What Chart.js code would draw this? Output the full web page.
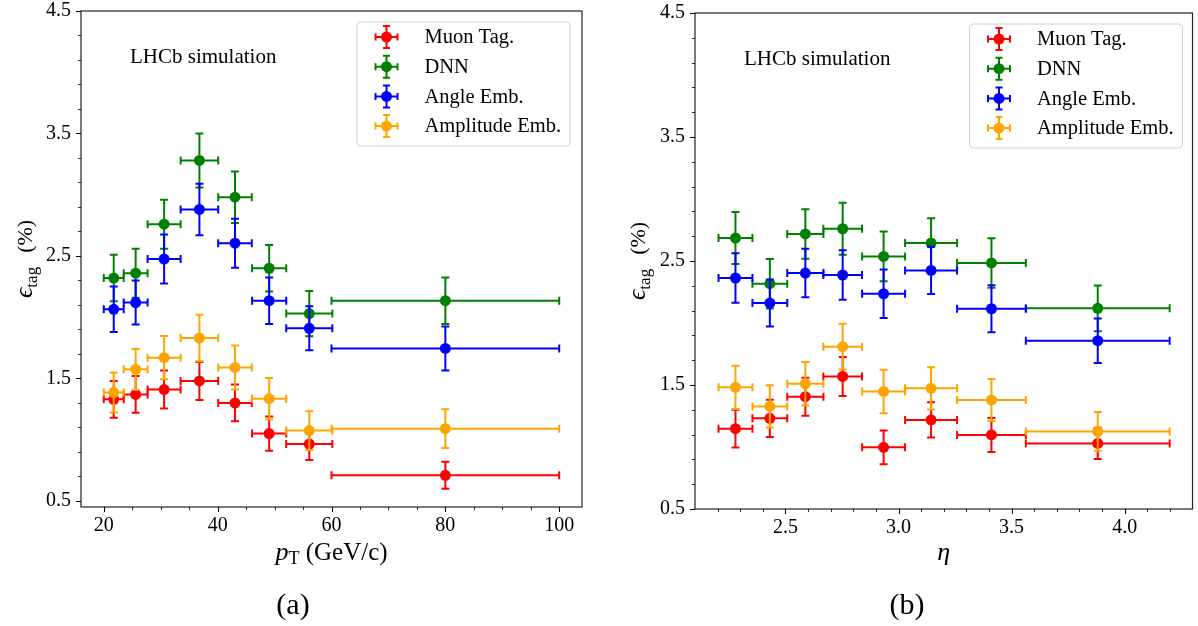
<!DOCTYPE html>
<html>
<head>
<meta charset="utf-8">
<script src="https://cdn.jsdelivr.net/npm/chart.js@4.4.0/dist/chart.umd.min.js"></script>
<style>
  html, body { margin: 0; padding: 0; background: #fff; }
  #wrap { position: relative; width: 1198px; height: 626px; overflow: hidden; }
  .panel { position: absolute; top: 0; height: 626px; }
  .cap {
    position: absolute; top: 589px; width: 200px; text-align: center;
    font: 30px 'Liberation Serif', serif; line-height: 30px; color: #000;
  }
</style>
</head>
<body>
<div id="wrap">
  <div class="panel" style="left:0;width:600px"><canvas id="ptChart"></canvas></div>
  <div class="panel" style="left:600px;width:598px"><canvas id="etaChart"></canvas></div>
  <div class="cap" style="left:193px">(a)</div>
  <div class="cap" style="left:807px">(b)</div>
</div>
<script>
// ---- data: panel (a), binned in pT ----
const ptCenters = [21.75, 25.6, 30.6, 36.8, 43.05, 49.05, 56.1, 80];
const ptHalfWidths = [1.75, 2.1, 2.9, 3.3, 2.95, 3.0, 4.05, 20];
const muonPt = [1.33, 1.37, 1.41, 1.48, 1.30, 1.05, 0.965, 0.71];
const muonPtErr = [0.15, 0.15, 0.155, 0.155, 0.15, 0.14, 0.13, 0.11];
const dnnPt = [2.32, 2.36, 2.76, 3.28, 2.98, 2.40, 2.03, 2.135];
const dnnPtErr = [0.19, 0.2, 0.2, 0.22, 0.21, 0.19, 0.185, 0.19];
const anglePt = [2.065, 2.12, 2.475, 2.88, 2.605, 2.135, 1.91, 1.745];
const anglePtErr = [0.185, 0.18, 0.2, 0.21, 0.2, 0.19, 0.18, 0.18];
const ampPt = [1.385, 1.575, 1.67, 1.83, 1.59, 1.335, 1.075, 1.09];
const ampPtErr = [0.163, 0.166, 0.177, 0.19, 0.18, 0.17, 0.158, 0.158];

// ---- data: panel (b), binned in eta ----
const etaCenters = [2.279, 2.431, 2.588, 2.753, 2.934, 3.144, 3.411, 3.881];
const etaHalfWidths = [0.075, 0.077, 0.08, 0.0855, 0.095, 0.115, 0.152, 0.318];
const muonEta = [1.148, 1.231, 1.406, 1.569, 0.997, 1.218, 1.097, 1.029];
const muonEtaErr = [0.153, 0.15, 0.153, 0.157, 0.137, 0.142, 0.137, 0.126];
const dnnEta = [2.685, 2.317, 2.718, 2.76, 2.537, 2.645, 2.484, 2.118];
const dnnEtaErr = [0.21, 0.2, 0.2, 0.21, 0.2, 0.2, 0.2, 0.185];
const angleEta = [2.363, 2.161, 2.403, 2.387, 2.236, 2.424, 2.115, 1.857];
const angleEtaErr = [0.2, 0.19, 0.195, 0.2, 0.195, 0.19, 0.19, 0.18];
const ampEta = [1.481, 1.327, 1.51, 1.809, 1.448, 1.473, 1.379, 1.126];
const ampEtaErr = [0.175, 0.17, 0.175, 0.185, 0.175, 0.17, 0.17, 0.156];

const seriesLabels = ["Muon Tag.", "DNN", "Angle Emb.", "Amplitude Emb."];
const seriesColors = ["#ff0000", "#008000", "#0000ff", "#ffa500"];

// ---- ticks ----
const effTicks = [0.5, 1.5, 2.5, 3.5, 4.5];
const effTickLabels = ["0.5", "1.5", "2.5", "3.5", "4.5"];
const effMinorTicks = [0.7, 0.9, 1.1, 1.3, 1.7, 1.9, 2.1, 2.3, 2.7, 2.9, 3.1, 3.3, 3.7, 3.9, 4.1, 4.3];
const ptTicks = [20, 40, 60, 80, 100];
const ptTickLabels = ["20", "40", "60", "80", "100"];
const ptMinorTicks = [25, 30, 35, 45, 50, 55, 65, 70, 75, 85, 90, 95];
const etaTicks = [2.5, 3.0, 3.5, 4.0];
const etaTickLabels = ["2.5", "3.0", "3.5", "4.0"];
const etaMinorTicks = [2.2, 2.3, 2.4, 2.6, 2.7, 2.8, 2.9, 3.1, 3.2, 3.3, 3.4, 3.6, 3.7, 3.8, 3.9, 4.1, 4.2];

const SERIF = "'Liberation Serif', 'DejaVu Serif', serif";

function drawCross(ctx, px, x0, x1, py, y0, y1, color, cap) {
  ctx.strokeStyle = color;
  ctx.lineWidth = 2;
  ctx.beginPath();
  ctx.moveTo(x0, py); ctx.lineTo(x1, py);
  ctx.moveTo(px, y0); ctx.lineTo(px, y1);
  // caps
  ctx.moveTo(x0, py - cap); ctx.lineTo(x0, py + cap);
  ctx.moveTo(x1, py - cap); ctx.lineTo(x1, py + cap);
  ctx.moveTo(px - cap, y0); ctx.lineTo(px + cap, y0);
  ctx.moveTo(px - cap, y1); ctx.lineTo(px + cap, y1);
  ctx.stroke();
}

// draw text made of pieces (for subscripts / italics), centred on cx
function drawRuns(ctx, runs, cx, baseY) {
  let total = 0;
  runs.forEach((r) => { ctx.font = r.font; total += ctx.measureText(r.text).width + (r.gap || 0); });
  let x = cx - total / 2;
  ctx.textAlign = "left";
  ctx.textBaseline = "alphabetic";
  runs.forEach((r) => {
    ctx.font = r.font;
    x += r.gap || 0;
    ctx.fillText(r.text, x, baseY + (r.dy || 0));
    x += ctx.measureText(r.text).width;
  });
}

const errorBars = {
  id: "errorBars",
  beforeDatasetDraw(chart, args) {
    const ds = chart.data.datasets[args.index];
    const xs = chart.scales.x, ys = chart.scales.y;
    const ctx = chart.ctx;
    ctx.save();
    ds.data.forEach((p, i) => {
      drawCross(ctx,
        xs.getPixelForValue(p.x),
        xs.getPixelForValue(p.x - ds.xErr[i]), xs.getPixelForValue(p.x + ds.xErr[i]),
        ys.getPixelForValue(p.y),
        ys.getPixelForValue(p.y - ds.yErr[i]), ys.getPixelForValue(p.y + ds.yErr[i]),
        ds.backgroundColor, 4);
    });
    ctx.restore();
  },
};

const decorations = {
  id: "decorations",
  afterDraw(chart, args, opts) {
    const ctx = chart.ctx;
    const a = chart.chartArea;
    const xs = chart.scales.x, ys = chart.scales.y;
    ctx.save();

    // frame
    ctx.strokeStyle = "#222";
    ctx.lineWidth = 1.2;
    ctx.strokeRect(a.left, a.top, a.right - a.left, a.bottom - a.top);

    // tick marks
    ctx.strokeStyle = "#000";
    ctx.beginPath();
    ctx.lineWidth = 1;
    opts.xMajor.forEach((v) => {
      const x = Math.round(xs.getPixelForValue(v)) + 0.5;
      ctx.moveTo(x, a.bottom); ctx.lineTo(x, a.bottom + 5);
    });
    effTicks.forEach((v) => {
      const y = Math.round(ys.getPixelForValue(v)) + 0.5;
      ctx.moveTo(a.left, y); ctx.lineTo(a.left - 5, y);
    });
    ctx.stroke();
    ctx.beginPath();
    ctx.lineWidth = 0.8;
    opts.xMinor.forEach((v) => {
      const x = Math.round(xs.getPixelForValue(v)) + 0.5;
      ctx.moveTo(x, a.bottom); ctx.lineTo(x, a.bottom + 3);
    });
    effMinorTicks.forEach((v) => {
      const y = Math.round(ys.getPixelForValue(v)) + 0.5;
      ctx.moveTo(a.left, y); ctx.lineTo(a.left - 3, y);
    });
    ctx.stroke();

    ctx.fillStyle = "#000";
    // annotation
    ctx.font = "21px " + SERIF;
    ctx.textAlign = "left";
    ctx.textBaseline = "middle";
    ctx.fillText("LHCb simulation", a.left + 49, a.top + 46);

    // y title (rotated)
    ctx.save();
    ctx.translate(opts.yTitleX, (a.top + a.bottom) / 2);
    ctx.rotate(-Math.PI / 2);
    drawRuns(ctx, [
      { text: "\u03f5", font: "italic 26px " + SERIF },
      { text: "tag", font: "17px " + SERIF, dy: 5 },
      { text: "(%)", font: "22px " + SERIF, gap: 14 },
    ], 0, 7);
    ctx.restore();

    // x title
    drawRuns(ctx, opts.xTitle, (a.left + a.right) / 2, 560);

    // legend
    const bw = 213, bh = 124;
    const bx = a.right - opts.legendInset - bw, by = a.top + 11;
    ctx.beginPath();
    ctx.roundRect(bx, by, bw, bh, 4);
    ctx.fillStyle = "rgba(255,255,255,0.8)";
    ctx.fill();
    ctx.strokeStyle = "#d0d0d0";
    ctx.lineWidth = 1;
    ctx.stroke();
    chart.data.datasets.forEach((ds, i) => {
      const cy = by + 15 + i * 29.7;
      const mx = bx + 29.5;
      drawCross(ctx, mx, mx - 11, mx + 11, cy, cy - 11, cy + 11, ds.backgroundColor, 3.5);
      ctx.fillStyle = ds.backgroundColor;
      ctx.beginPath();
      ctx.arc(mx, cy, 5.5, 0, Math.PI * 2);
      ctx.fill();
      ctx.fillStyle = "#000";
      ctx.font = "20.5px " + SERIF;
      ctx.textAlign = "left";
      ctx.textBaseline = "middle";
      ctx.fillText(ds.label, bx + 67.5, cy + 1);
    });
    ctx.restore();
  },
};

function makeDatasets(xv, xe, ys, es) {
  return ys.map((vals, k) => ({
    label: seriesLabels[k],
    data: vals.map((v, i) => ({ x: xv[i], y: v })),
    xErr: xe,
    yErr: es[k],
    backgroundColor: seriesColors[k],
    borderColor: seriesColors[k],
    pointRadius: 5.5,
    pointHoverRadius: 5.5,
    pointBorderWidth: 0,
    order: 4 - k, // later series drawn on top
  }));
}

// fixed axis boxes so the plot area lands where the reference has it
function fixBox(size, horizontal) {
  return (s) => {
    if (horizontal) s.height = size; else s.width = size;
    s.paddingTop = 0; s.paddingBottom = 0;
    s.paddingLeft = 0; s.paddingRight = 0;
  };
}

function makeChart(id, cfg) {
  const tickFont = { family: SERIF, size: 20, lineHeight: 1.0 };
  return new Chart(document.getElementById(id), {
    type: "scatter",
    data: { datasets: makeDatasets(cfg.xv, cfg.xe, cfg.series, cfg.errors) },
    options: {
      responsive: true,
      maintainAspectRatio: false,
      animation: false,
      layout: { padding: cfg.padding },
      plugins: {
        legend: { display: false },
        tooltip: { enabled: false },
        decorations: {
          xMajor: cfg.xTicks, xMinor: cfg.xMinor,
          yTitleX: cfg.yTitleX, xTitle: cfg.xTitle,
          legendInset: cfg.legendInset,
        },
      },
      scales: {
        x: {
          type: "linear",
          min: cfg.xMin,
          max: cfg.xMax,
          afterBuildTicks: (s) => { s.ticks = cfg.xTicks.map((v) => ({ value: v })); },
          afterFit: fixBox(cfg.xAxisHeight, true),
          grid: { display: false, drawTicks: false },
          border: { display: false },
          ticks: {
            autoSkip: false, maxRotation: 0, padding: 9, color: "#000", font: tickFont,
            callback: (v, i) => cfg.xLabels[i],
          },
        },
        y: {
          type: "linear",
          min: cfg.yMin,
          max: 4.5,
          afterBuildTicks: (s) => { s.ticks = effTicks.map((v) => ({ value: v })); },
          afterFit: fixBox(cfg.yAxisWidth, false),
          grid: { display: false, drawTicks: false },
          border: { display: false },
          ticks: {
            autoSkip: false, padding: 10, color: "#000", font: tickFont,
            callback: (v, i) => effTickLabels[i],
          },
        },
      },
    },
    plugins: [errorBars, decorations],
  });
}

makeChart("ptChart", {
  xv: ptCenters, xe: ptHalfWidths,
  series: [muonPt, dnnPt, anglePt, ampPt],
  errors: [muonPtErr, dnnPtErr, anglePtErr, ampPtErr],
  xMin: 16, xMax: 104, yMin: 0.451,
  xTicks: ptTicks, xLabels: ptTickLabels, xMinor: ptMinorTicks,
  padding: { left: 0, top: 11, right: 18, bottom: 0 },
  yAxisWidth: 81, xAxisHeight: 119, yTitleX: 25, legendInset: 12,
  xTitle: [
    { text: "p", font: "italic 26px " + SERIF },
    { text: "T", font: "18px " + SERIF, dy: 4 },
    { text: " (GeV/c)", font: "25px " + SERIF },
  ],
});

makeChart("etaChart", {
  xv: etaCenters, xe: etaHalfWidths,
  series: [muonEta, dnnEta, angleEta, ampEta],
  errors: [muonEtaErr, dnnEtaErr, angleEtaErr, ampEtaErr],
  xMin: 2.1, xMax: 4.3, yMin: 0.5,
  xTicks: etaTicks, xLabels: etaTickLabels, xMinor: etaMinorTicks,
  padding: { left: 0, top: 13, right: 5.5, bottom: 0 },
  yAxisWidth: 95, xAxisHeight: 117, yTitleX: 38, legendInset: 10,
  xTitle: [{ text: "\u03b7", font: "italic 26px " + SERIF }],
});
</script>
</body>
</html>
